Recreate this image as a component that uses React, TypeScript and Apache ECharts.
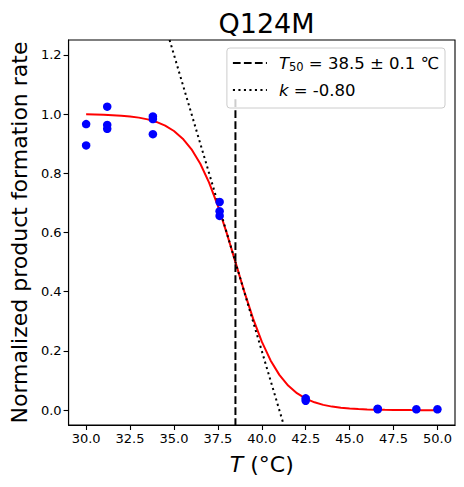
import React, { useEffect, useRef } from "react";
import * as echarts from "echarts";

// Measured points (T in °C, normalized rate)
const pointT = [30, 30, 31.2, 31.2, 31.2, 33.8, 33.8, 33.8, 37.6, 37.6, 37.6, 42.5, 42.5, 46.6, 46.6, 48.8, 50];
const pointRate = [0.966, 0.894, 1.025, 0.963, 0.95, 0.992, 0.983, 0.932, 0.703, 0.672, 0.656, 0.04, 0.032, 0.005, 0.003, 0.003, 0.003];

// Fitted curve
const curveT = [30, 30.5, 31, 31.5, 32, 32.5, 33, 33.5, 34, 34.5, 35, 35.5, 36, 36.5, 37, 37.5, 38, 38.5, 39, 39.5, 40, 40.5, 41, 41.5, 42, 42.5, 43, 43.5, 44, 44.5, 45, 45.5, 46, 46.5, 47, 47.5, 48, 48.5, 49, 49.5, 50];
const curveRate = [0.9989, 0.9983, 0.9975, 0.9963, 0.9945, 0.9918, 0.9879, 0.982, 0.9734, 0.9608, 0.9427, 0.9168, 0.8808, 0.832, 0.7685, 0.69, 0.5987, 0.5, 0.4013, 0.31, 0.2315, 0.168, 0.1192, 0.0832, 0.0573, 0.0392, 0.0266, 0.018, 0.0121, 0.0082, 0.0055, 0.0037, 0.0025, 0.0017, 0.0011, 0.0007, 0.0005, 0.0003, 0.0002, 0.0001, 0.0001];

// Reference lines
const t50Value = 38.5;
const t50Err = 0.1;
const kValue = -0.8;
const vlineY = [1.05, -0.05];
const tangentT = [34.75, 41.25];
const tangentRate = [1.25, -0.05];

// Axes
const xRange = [29, 51];
const yRange = [-0.05, 1.25];
const xTicks = [30, 32.5, 35, 37.5, 40, 42.5, 45, 47.5, 50];
const yTicks = [0, 0.2, 0.4, 0.6, 0.8, 1.0, 1.2];

const FONT = "DejaVu Sans";

export default function App() {
  const ref = useRef<HTMLDivElement>(null);

  useEffect(() => {
    if (!ref.current) return;
    const chart = echarts.init(ref.current, null, { renderer: "svg" });

    const scatterData = pointT.map((t, i) => [t, pointRate[i]]);
    const curveData = curveT.map((t, i) => [t, curveRate[i]]);
    const vlineData = vlineY.map((y) => [t50Value, y]);
    const tangentData = tangentT.map((t, i) => [t, tangentRate[i]]);

    chart.setOption({
      animation: false,
      backgroundColor: "#ffffff",
      textStyle: { fontFamily: FONT },
      title: {
        text: "Q124M",
        left: 261.5,
        textAlign: "center",
        top: 5,
        textStyle: { fontFamily: FONT, fontSize: 27, fontWeight: "normal", color: "#000" },
      },
      grid: {
        left: 68,
        right: 9,
        top: 40,
        bottom: 62,
        show: true,
        borderColor: "#000",
        borderWidth: 1.1,
        containLabel: false,
      },
      legend: {
        orient: "vertical",
        right: 19,
        top: 48,
        data: ["T50", "k"],
        itemWidth: 34,
        itemHeight: 14,
        itemGap: 7,
        padding: [5, 6, 8, 5],
        backgroundColor: "rgba(255,255,255,0.8)",
        borderColor: "#cccccc",
        borderWidth: 1,
        borderRadius: 3,
        z: 10,
        itemStyle: { color: "rgba(0,0,0,0)", borderWidth: 0, opacity: 0 },
        formatter: (name: string) =>
          name === "T50"
            ? `{i|T}{s|50} = ${t50Value.toFixed(1)} ± ${t50Err.toFixed(1)} ℃`
            : `{i|k} = ${kValue.toFixed(2)}`,
        textStyle: {
          fontFamily: FONT,
          fontSize: 16.5,
          color: "#000",
          lineHeight: 20,
          padding: [0, 0, 0, 7],
          rich: {
            i: { fontFamily: FONT, fontSize: 16.5, fontStyle: "italic", color: "#000", lineHeight: 20 },
            s: { fontFamily: FONT, fontSize: 11.5, color: "#000", verticalAlign: "bottom", lineHeight: 12 },
          },
        },
      },
      xAxis: {
        type: "value",
        min: xRange[0],
        max: xRange[1],
        name: "{i|T} (°C)",
        nameLocation: "middle",
        nameGap: 28,
        nameTextStyle: {
          fontFamily: FONT,
          fontSize: 22,
          color: "#000",
          rich: { i: { fontFamily: FONT, fontSize: 22, fontStyle: "italic", color: "#000" } },
        },
        axisLine: { show: true, onZero: false, lineStyle: { color: "#000", width: 1.1 } },
        axisTick: { show: true, length: 5, lineStyle: { color: "#000", width: 1.1 }, customValues: xTicks },
        axisLabel: {
          customValues: xTicks,
          formatter: (v: number) => v.toFixed(1),
          fontFamily: FONT,
          fontSize: 13,
          color: "#000",
          margin: 7,
        },
        splitLine: { show: false },
      },
      yAxis: {
        type: "value",
        min: yRange[0],
        max: yRange[1],
        name: "Normalized product formation rate",
        nameLocation: "middle",
        nameGap: 37,
        nameTextStyle: { fontFamily: FONT, fontSize: 22, color: "#000" },
        axisLine: { show: true, onZero: false, lineStyle: { color: "#000", width: 1.1 } },
        axisTick: { show: true, length: 5, lineStyle: { color: "#000", width: 1.1 }, customValues: yTicks },
        axisLabel: {
          customValues: yTicks,
          formatter: (v: number) => v.toFixed(1),
          fontFamily: FONT,
          fontSize: 13,
          color: "#000",
          margin: 7,
        },
        splitLine: { show: false },
      },
      series: [
        {
          name: "points",
          type: "scatter",
          data: scatterData,
          symbolSize: 8.5,
          itemStyle: { color: "#0000ff", opacity: 1 },
          z: 2,
        },
        {
          name: "fit",
          type: "line",
          data: curveData,
          showSymbol: false,
          symbol: "none",
          smooth: false,
          lineStyle: { color: "#ff0000", width: 2 },
          z: 2,
        },
        {
          name: "T50",
          type: "line",
          data: vlineData,
          showSymbol: false,
          symbol: "none",
          clip: true,
          itemStyle: { color: "#000" },
          lineStyle: { color: "#000", width: 2, type: [7.7, 3.3] },
          z: 2,
        },
        {
          name: "k",
          type: "line",
          data: tangentData,
          showSymbol: false,
          symbol: "none",
          clip: true,
          itemStyle: { color: "#000" },
          lineStyle: { color: "#000", width: 2, type: [2.1, 3.4] },
          z: 2,
        },
      ],
    });

    return () => chart.dispose();
  }, []);

  return (
    <div
      ref={ref}
      style={{ position: "fixed", left: 0, top: 0, width: 464, height: 487 }}
    />
  );
}
